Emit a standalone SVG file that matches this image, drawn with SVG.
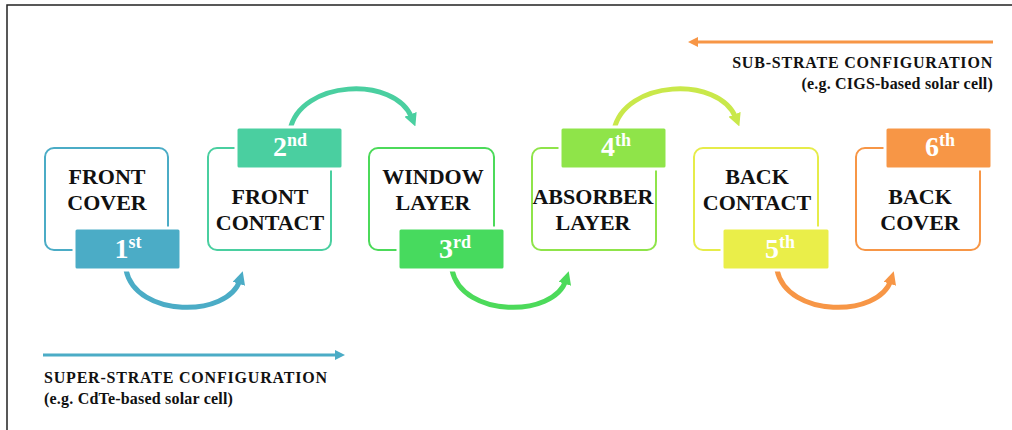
<svg xmlns="http://www.w3.org/2000/svg" width="1012" height="430" viewBox="0 0 1012 430">
<defs>
<style>
.lbl{font-family:"Liberation Serif","Times New Roman",serif;font-weight:bold;font-size:22px;fill:#111;text-anchor:middle}
.num{font-family:"Liberation Serif","Times New Roman",serif;font-weight:bold;font-size:28px;fill:#fff;text-anchor:middle}
.sup{font-size:18px}
.box{fill:#fff;stroke-width:2}
.badge{stroke:#fff;stroke-width:3}
.cap{font-family:"Liberation Serif","Times New Roman",serif;font-weight:bold;font-size:16px;fill:#111;letter-spacing:0.8px}
.sub{font-family:"Liberation Serif","Times New Roman",serif;font-weight:bold;font-size:16px;fill:#111;letter-spacing:0.2px}
.arc{fill:none;stroke-width:5;stroke-linecap:butt}
</style>
<marker id="mB" viewBox="0 0 10 10" refX="3" refY="5" markerUnits="userSpaceOnUse" markerWidth="13" markerHeight="13" orient="auto"><path d="M0,0 L10,5 L0,10 z" fill="#4BACC6"/></marker>
<marker id="mT" viewBox="0 0 10 10" refX="3" refY="5" markerUnits="userSpaceOnUse" markerWidth="13" markerHeight="13" orient="auto"><path d="M0,0 L10,5 L0,10 z" fill="#4ACFA0"/></marker>
<marker id="mG" viewBox="0 0 10 10" refX="3" refY="5" markerUnits="userSpaceOnUse" markerWidth="13" markerHeight="13" orient="auto"><path d="M0,0 L10,5 L0,10 z" fill="#4CDA5A"/></marker>
<marker id="mL" viewBox="0 0 10 10" refX="3" refY="5" markerUnits="userSpaceOnUse" markerWidth="13" markerHeight="13" orient="auto"><path d="M0,0 L10,5 L0,10 z" fill="#C9E84A"/></marker>
<marker id="mO" viewBox="0 0 10 10" refX="3" refY="5" markerUnits="userSpaceOnUse" markerWidth="13" markerHeight="13" orient="auto"><path d="M0,0 L10,5 L0,10 z" fill="#F79646"/></marker>
<marker id="sO" viewBox="0 0 10 10" refX="2" refY="5" markerUnits="userSpaceOnUse" markerWidth="10" markerHeight="10" orient="auto"><path d="M0,0 L10,5 L0,10 z" fill="#F79646"/></marker>
<marker id="sB" viewBox="0 0 10 10" refX="2" refY="5" markerUnits="userSpaceOnUse" markerWidth="10" markerHeight="10" orient="auto"><path d="M0,0 L10,5 L0,10 z" fill="#4BACC6"/></marker>
</defs>
<rect width="1012" height="430" fill="#fff"/>
<path d="M7,430 L7,5 L1012,5" fill="none" stroke="#222" stroke-width="1.5"/>

<g id="connectors">
<path class="arc" d="M126,270 C136,318 228,318 240,280" stroke="#4BACC6" marker-end="url(#mB)"/>
<path class="arc" d="M290,130 C300,80 395,75 412,118" stroke="#4ACFA0" marker-end="url(#mT)"/>
<path class="arc" d="M452,270 C462,318 554,318 566,280" stroke="#4CDA5A" marker-end="url(#mG)"/>
<path class="arc" d="M614,130 C624,80 719,75 736,118" stroke="#C9E84A" marker-end="url(#mL)"/>
<path class="arc" d="M777,270 C787,318 879,318 891,280" stroke="#F79646" marker-end="url(#mO)"/>
<line x1="993" y1="42" x2="696" y2="42" stroke="#F79646" stroke-width="3" marker-end="url(#sO)"/>
<line x1="43" y1="355" x2="337" y2="355" stroke="#4BACC6" stroke-width="3" marker-end="url(#sB)"/>
</g>

<g id="node1">
<rect class="box" x="45" y="148" width="123" height="102" rx="9" stroke="#4BACC6"/>
<rect class="badge" x="74" y="228" width="107" height="42" rx="3" fill="#4BACC6"/>
<text class="lbl" x="107" y="184">FRONT</text>
<text class="lbl" x="107" y="210">COVER</text>
<text class="num" x="128" y="258">1<tspan class="sup" dy="-10">st</tspan></text>
</g>
<g id="node2">
<rect class="box" x="208" y="148" width="123" height="102" rx="9" stroke="#4ACFA0"/>
<rect class="badge" x="236" y="127" width="107" height="42" rx="3" fill="#4ACFA0"/>
<text class="lbl" x="270" y="204">FRONT</text>
<text class="lbl" x="270" y="230">CONTACT</text>
<text class="num" x="290" y="156">2<tspan class="sup" dy="-10">nd</tspan></text>
</g>
<g id="node3">
<rect class="box" x="369" y="148" width="125" height="102" rx="9" stroke="#4CDA5A"/>
<rect class="badge" x="398" y="228" width="107" height="42" rx="3" fill="#47DA5E"/>
<text class="lbl" x="433" y="184">WINDOW</text>
<text class="lbl" x="433" y="210">LAYER</text>
<text class="num" x="455" y="258">3<tspan class="sup" dy="-10">rd</tspan></text>
</g>
<g id="node4">
<rect class="box" x="532" y="148" width="124" height="102" rx="9" stroke="#8FE44A"/>
<rect class="badge" x="560" y="127" width="107" height="42" rx="3" fill="#8FE449"/>
<text class="lbl" x="593" y="204">ABSORBER</text>
<text class="lbl" x="593" y="230">LAYER</text>
<text class="num" x="616" y="156">4<tspan class="sup" dy="-10">th</tspan></text>
</g>
<g id="node5">
<rect class="box" x="694" y="148" width="124" height="102" rx="9" stroke="#E6EC4A"/>
<rect class="badge" x="722" y="228" width="108" height="42" rx="3" fill="#EAEE49"/>
<text class="lbl" x="757" y="184">BACK</text>
<text class="lbl" x="757" y="210">CONTACT</text>
<text class="num" x="780" y="258">5<tspan class="sup" dy="-10">th</tspan></text>
</g>
<g id="node6">
<rect class="box" x="856" y="148" width="124" height="102" rx="9" stroke="#F79646"/>
<rect class="badge" x="885" y="127" width="107" height="42" rx="3" fill="#F79646"/>
<text class="lbl" x="920" y="204">BACK</text>
<text class="lbl" x="920" y="230">COVER</text>
<text class="num" x="940" y="156">6<tspan class="sup" dy="-10">th</tspan></text>
</g>

<g id="captions">
<text class="cap" x="993" y="68" text-anchor="end">SUB-STRATE CONFIGURATION</text>
<text class="sub" x="993" y="89" text-anchor="end">(e.g. CIGS-based solar cell)</text>
<text class="cap" x="44" y="383">SUPER-STRATE CONFIGURATION</text>
<text class="sub" x="44" y="404">(e.g. CdTe-based solar cell)</text>
</g>
</svg>
